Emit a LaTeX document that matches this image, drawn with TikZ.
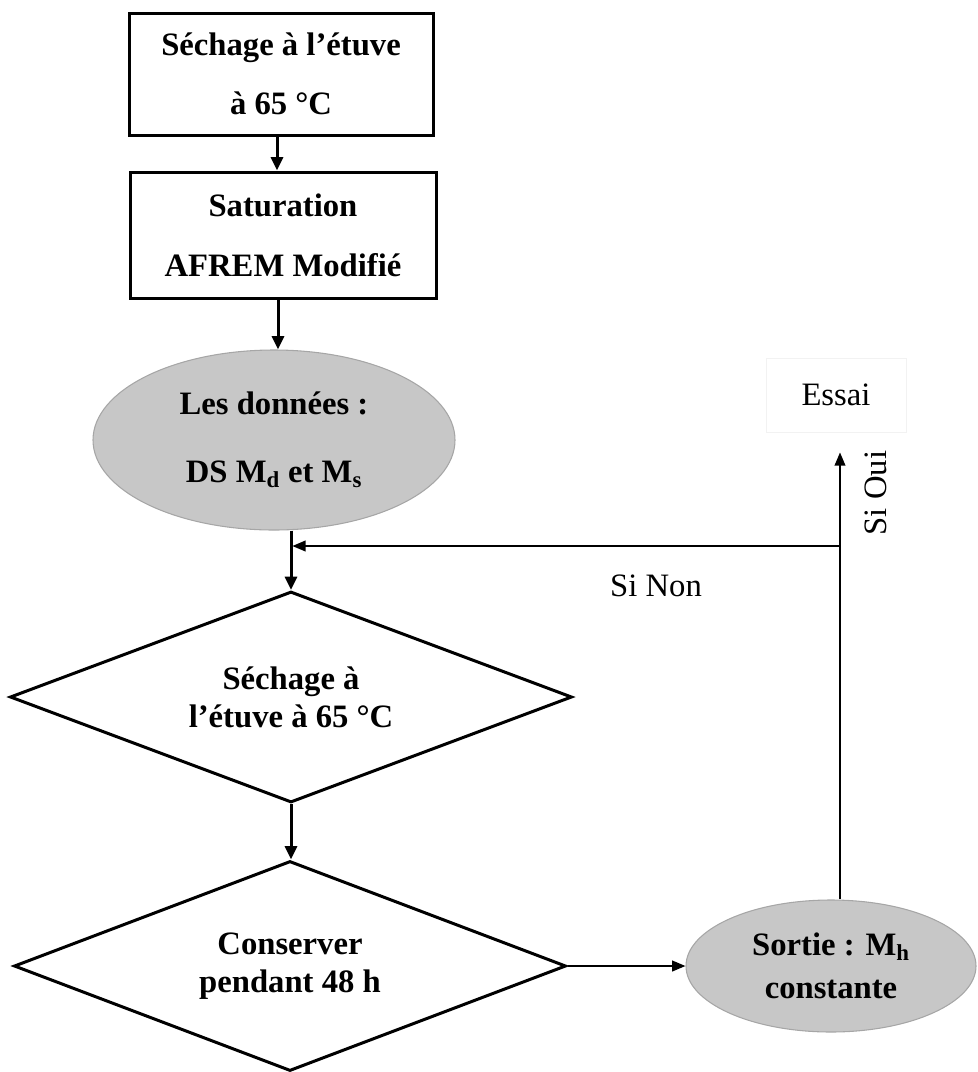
\documentclass[tikz,border=0pt]{standalone}
\usepackage{fontspec}
\setmainfont{Liberation Serif}
\usetikzlibrary{shapes.geometric,arrows.meta}
\begin{document}
\begin{tikzpicture}[x=0.75pt,y=-0.75pt,
  stepbox/.style={draw, line width=2.25pt, inner sep=0pt, align=center,
    font=\bfseries\fontsize{24.5}{44}\selectfont},
  datum/.style={ellipse, draw=black!35, line width=0.8pt, fill=black!22,
    inner sep=0pt, align=center},
  test/.style={diamond, shape aspect=2.66, draw, line width=2.25pt, inner sep=0pt,
    align=center, font=\bfseries\fontsize{24.5}{28.5}\selectfont},
  flow/.style={line width=2.25pt, -{Triangle[length=10pt,width=9pt]}},
  loop/.style={line width=1.5pt, -{Triangle[length=10pt,width=8pt]}},
  label/.style={font=\fontsize{24.5}{28}\selectfont, inner sep=0pt}]
\useasboundingbox (0,0) rectangle (978,1072);

% process boxes
\node[stepbox, minimum width=228pt, minimum height=91.5pt] (b1) at (281,74)
  {Séchage à l’étuve\\ à 65 °C};
\node[stepbox, minimum width=229.5pt, minimum height=94.5pt,
  font=\bfseries\fontsize{24.5}{45}\selectfont] (b2) at (283,235)
  {Saturation\\ AFREM Modifié};

% input data
\node[datum, minimum width=271.5pt, minimum height=135pt,
  font=\bfseries\fontsize{24.5}{51}\selectfont] (e1) at (274,440)
  {Les données :\\ DS M\textsubscript{d} et M\textsubscript{s}};

% decision steps
\node[test, minimum width=421.5pt, minimum height=158.25pt] (d1) at (291,697)
  {Séchage à\\ l’étuve à 65 °C};
\node[test, minimum width=414pt, minimum height=157.5pt] (d2) at (290,966)
  {Conserver\\ pendant 48 h};

% output
\node[datum, minimum width=217.5pt, minimum height=99pt,
  font=\bfseries\fontsize{24.5}{32}\selectfont] (e2) at (831,966)
  {Sortie : M\textsubscript{h}\\ constante};

% test label
\node[draw=black!5, line width=0.6pt, minimum width=105pt, minimum height=55.5pt,
  font=\fontsize{24.5}{28}\selectfont] (essai) at (836,395) {Essai};

% main flow
\draw[flow] (b1.south -| 277,0) -- (b2.north -| 277,0);
\draw[flow] (b2.south -| 278,0) -- (e1.north -| 278,0);
\draw[flow] (d1.north |- e1.south) -- (d1.north);
\draw[flow] (d1.south) -- (d1.south |- d2.north);
\draw[loop] (d2.east) -- (e2.west);

% feedback loop
\coordinate (split) at (840,546);
\draw[loop] (e2.north -| split) -- ([yshift=-15pt]essai.south -| split);
\draw[loop] (split) -- ([xshift=1pt]split -| d1.north);

\node[label, rotate=90] (oui) at (876,493) {Si Oui};
\node[label] (non) at (656,586) {Si Non};
\end{tikzpicture}
\end{document}
